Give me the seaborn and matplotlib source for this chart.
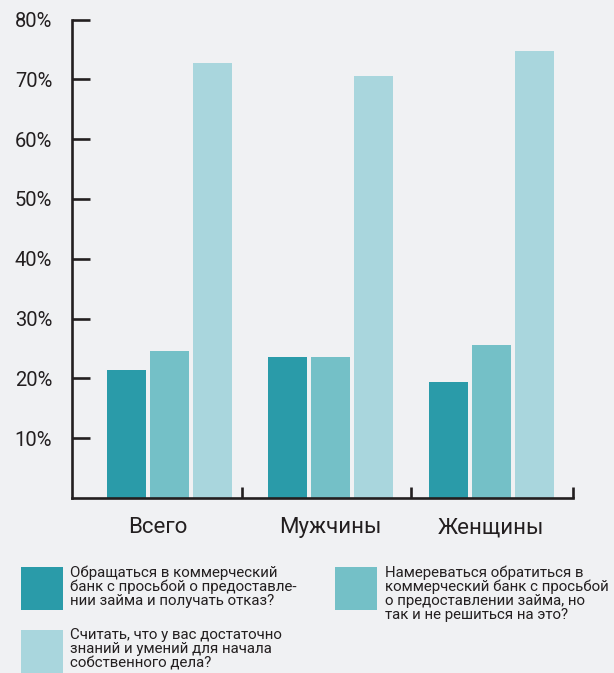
import pandas as pd
import matplotlib
matplotlib.use("Agg")
import matplotlib.pyplot as plt
import matplotlib.patches as mpatches
import matplotlib.transforms as mtransforms
import seaborn as sns

# данные
groups = ["Всего", "Мужчины", "Женщины"]
series = [
    "Обращаться в коммерческий\nбанк с просьбой о предоставле-\nнии займа и получать отказ?",
    "Намереваться обратиться в\nкоммерческий банк с просьбой\nо предоставлении займа, но\nтак и не решиться на это?",
    "Считать, что у вас достаточно\nзнаний и умений для начала\nсобственного дела?",
]
refused = [21.4, 23.6, 19.4]
hesitated = [24.6, 23.6, 25.6]
enough_skills = [72.7, 70.6, 74.7]
yticks = [10, 20, 30, 40, 50, 60, 70, 80]

colors = ["#2a9ba9", "#74c0c7", "#a9d6dd"]
bg = "#f0f1f3"
ink = "#231f20"

rows = []
for vals, s in zip([refused, hesitated, enough_skills], series):
    for g, v in zip(groups, vals):
        rows.append({"group": g, "series": s, "value": v})
df = pd.DataFrame(rows)

sns.set_style("white")
plt.rcParams["font.family"] = ["Roboto", "DejaVu Sans"]

W, H = 614, 673
fig = plt.figure(figsize=(W / 100, H / 100), dpi=100, facecolor=bg)
ax = fig.add_axes([0.1168, 0.26, 0.8161, 0.711])
ax.set_facecolor(bg)

sns.barplot(data=df, x="group", y="value", hue="series", order=groups,
            hue_order=series, palette=colors, width=0.8, gap=0.09,
            saturation=1, linewidth=0, legend=False, ax=ax)

ax.set_xlim(-0.607, 2.506)
ax.set_ylim(0, 80)
ax.set_xlabel("")
ax.set_ylabel("")

for side in ["top", "right"]:
    ax.spines[side].set_visible(False)
for side in ["left", "bottom"]:
    ax.spines[side].set_color(ink)
    ax.spines[side].set_linewidth(1.9)

ax.set_yticks(yticks)
ax.set_yticklabels([f"{t}%" for t in yticks])
ax.tick_params(axis="y", direction="in", length=13, width=1.9, color=ink,
               labelsize=14.5, labelcolor=ink, pad=14, left=True)
ax.tick_params(axis="x", which="major", length=0, labelsize=16,
               labelcolor=ink, pad=14)
ax.set_xticks([0.45, 1.5, 2.506], minor=True)
ax.tick_params(axis="x", which="minor", direction="in", length=8,
               width=1.9, color=ink, bottom=True)

# "Всего" стоит чуть левее центра группы
lab = ax.get_xticklabels()[0]
lab.set_transform(lab.get_transform() +
                  mtransforms.ScaledTranslation(-0.12, 0, fig.dpi_scale_trans))

# легенда вручную: квадрат + текст, выровненные по верху
legend_pos = [(21, 567, 70.5, 565), (335, 567, 385, 565), (21, 630, 70.5, 628)]
for (px, py, tx, ty), c, s in zip(legend_pos, colors, series):
    fig.add_artist(mpatches.Rectangle((px / W, 1 - (py + 43) / H), 42 / W, 43 / H,
                                      transform=fig.transFigure, color=c, lw=0))
    fig.text(tx / W, 1 - ty / H, s, fontsize=10.8, color=ink, va="top",
             ha="left", linespacing=1.0)

fig.savefig("out.png", dpi=100, facecolor=bg)
